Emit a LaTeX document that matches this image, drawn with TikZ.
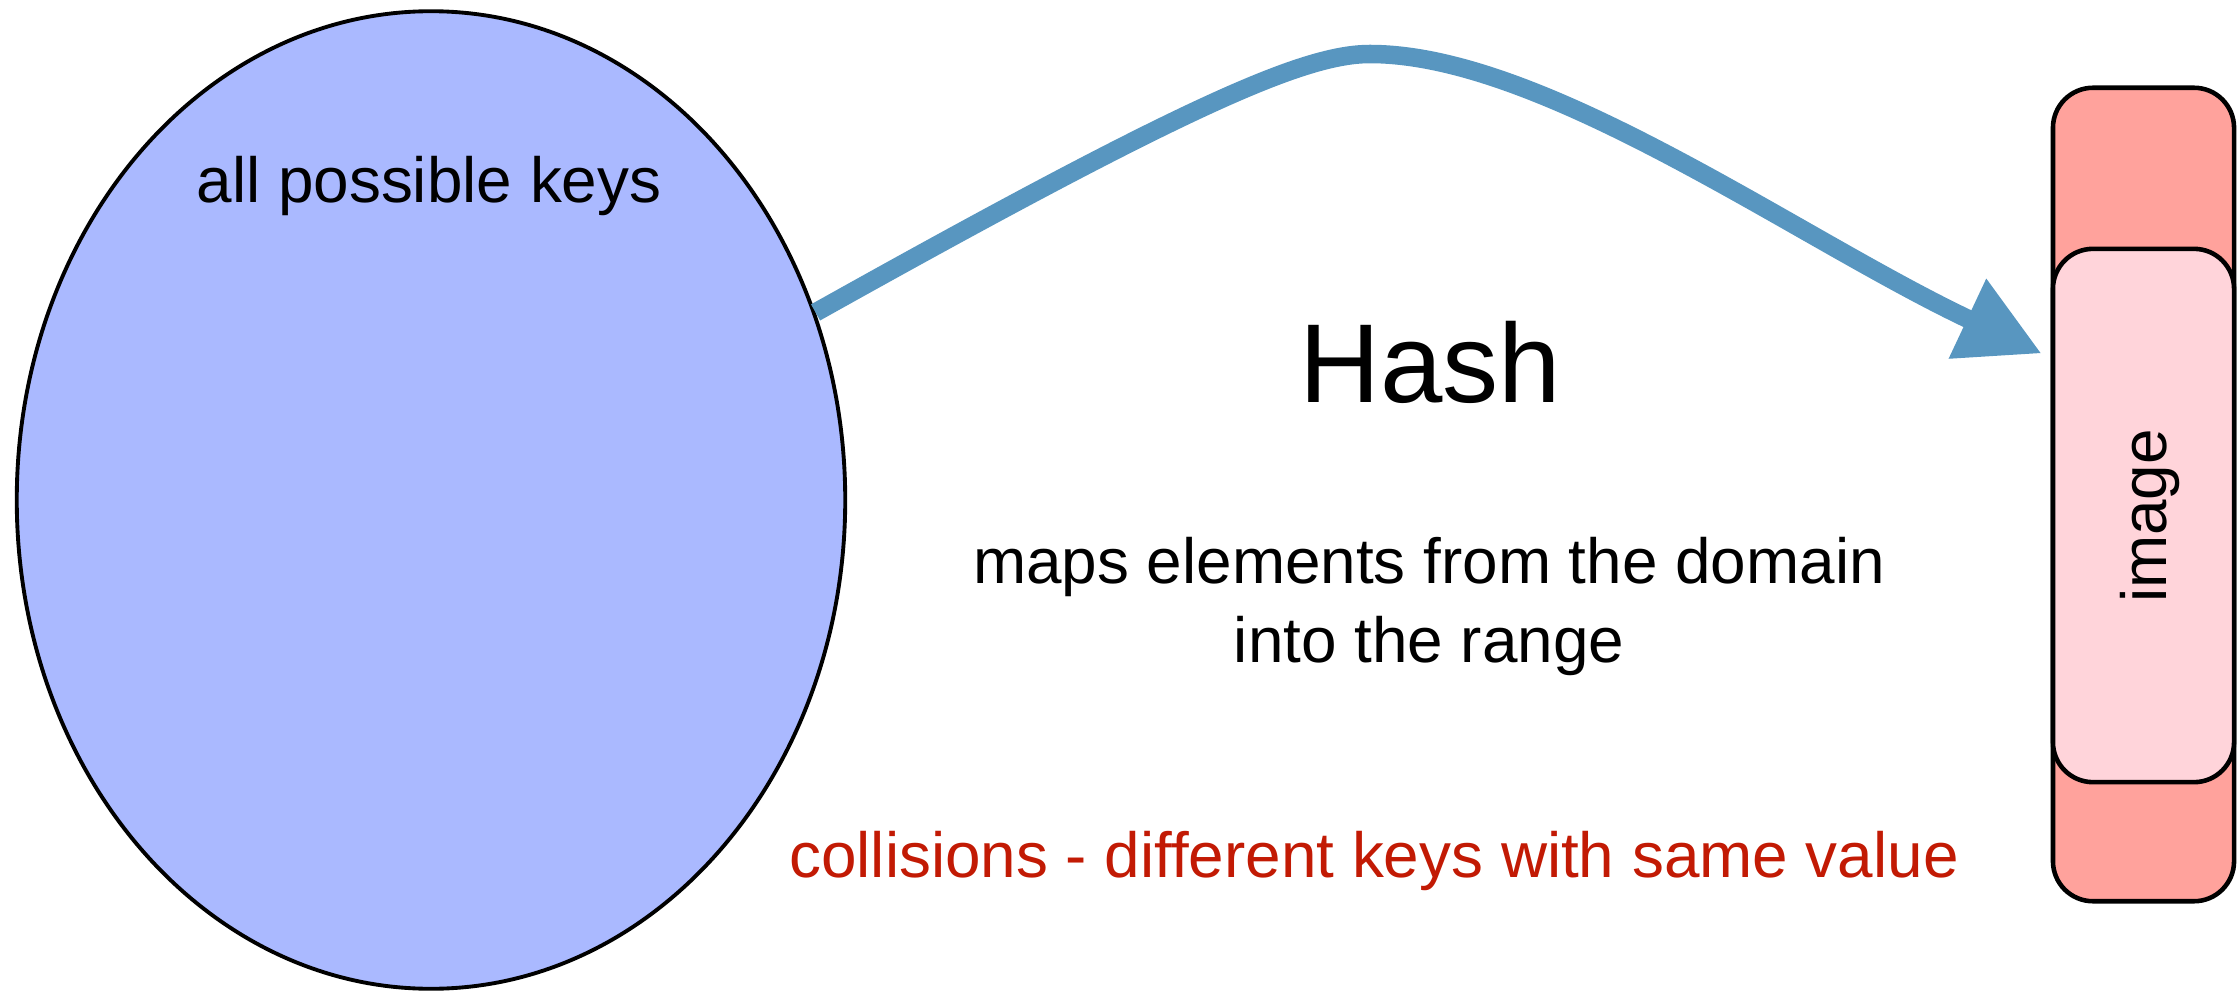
\documentclass[tikz,border=0pt]{standalone}
\usepackage{fontspec}
\setmainfont{Liberation Sans}
\usetikzlibrary{shapes.geometric,arrows.meta,calc}
\definecolor{keyblue}{RGB}{170,185,255}
\definecolor{rangered}{RGB}{255,162,156}
\definecolor{imgpink}{RGB}{255,212,218}
\definecolor{arrowblue}{RGB}{88,150,192}
\definecolor{noteRed}{RGB}{194,26,4}
\begin{document}
\begin{tikzpicture}[x=0.01cm,y=-0.01cm,
  txt/.style={font=\fontsize{18.15pt}{22.5pt}\selectfont, inner sep=0pt, outer sep=0pt},
  bigtxt/.style={font=\fontsize{31.9pt}{38pt}\selectfont, inner sep=0pt, outer sep=0pt},
  keyset/.style={ellipse, draw=black, line width=1.1pt, fill=keyblue, inner sep=0pt,
    minimum width=8.28cm, minimum height=9.77cm},
  rangebox/.style={rectangle, draw=black, line width=1.3pt, fill=rangered, rounded corners=0.4cm,
    minimum width=1.81cm, minimum height=8.13cm, inner sep=0pt},
  imagebox/.style={rectangle, draw=black, line width=1.3pt, fill=imgpink, rounded corners=0.4cm,
    minimum width=1.81cm, minimum height=5.33cm, inner sep=0pt},
  hasharrow/.style={draw=arrowblue, line width=0.185cm,
    -{Triangle[length=0.82cm,width=0.83cm]}}]
\useasboundingbox (0,0) rectangle (2239,994);
\node[keyset] (keys) at (431,500) {};
\node[txt, anchor=base] (keyslabel) at (429,203) {all possible keys};
\node[rangebox] (range) at (2143.5,494.5) {};
\node[imagebox] (image) at (2143.5,515.5) {};
\node[txt, rotate=90, anchor=base] (imagelabel) at (2166,516) {image};
\node[bigtxt, anchor=base] (hashlabel) at (1430,402) {Hash};
\node[txt, anchor=base] (desc1) at (1429,583) {maps elements from the domain};
\node[txt, anchor=base] (desc2) at (1429,662) {into the range};
\node[txt, anchor=base, text=noteRed] (collisions) at (1374,877) {collisions - different keys with same value};
\coordinate (peak) at (1370,54);
\coordinate (tip) at ($(image.north west)+(-9,107)$);
\draw[hasharrow] (keys.26) .. controls (1190,103) and (1305,54) .. (peak)
  .. controls (1545,54) and (1800,240) .. (tip);
\end{tikzpicture}
\end{document}
